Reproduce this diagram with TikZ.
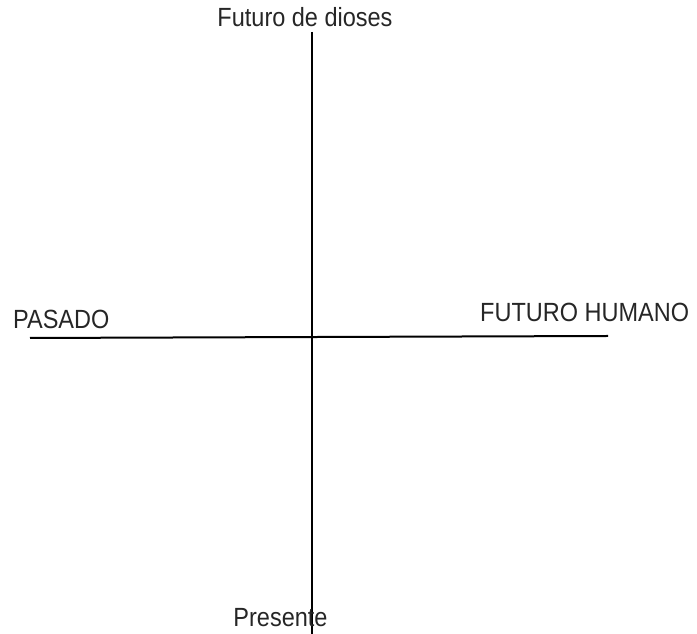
\documentclass[tikz,border=0pt]{standalone}
\usepackage{fontspec}
\setmainfont{Liberation Sans}
\newcommand{\tallt}[1]{\scalebox{1}[1.12]{#1}}
\begin{document}
\begin{tikzpicture}[x=1bp,y=1bp,
  lbl/.style={inner sep=0pt,font=\fontsize{23.5bp}{28bp}\selectfont,text=black!85},
  axis/.style={line width=2bp,black}]
\useasboundingbox (0,0) rectangle (697,634);
% axis end points
\coordinate (top) at (311.5,602);
\coordinate (bot) at (311.5,0);
\coordinate (left) at (30,296);
\coordinate (right) at (608,298);
\draw[axis] (top) -- (bot);
\draw[axis] (left) -- (right);
% labels
\node[lbl,anchor=base] (dioses) at (305,607) {\tallt{Futuro de dioses}};
\node[lbl,anchor=base west] (pasado) at (13,305.5) {\tallt{PASADO}};
\node[lbl,anchor=base west] (humano) at (480,312) {\tallt{FUTURO HUMANO}};
\node[lbl,anchor=base] (presente) at (280.5,7) {\tallt{Presente}};
\end{tikzpicture}
\end{document}
